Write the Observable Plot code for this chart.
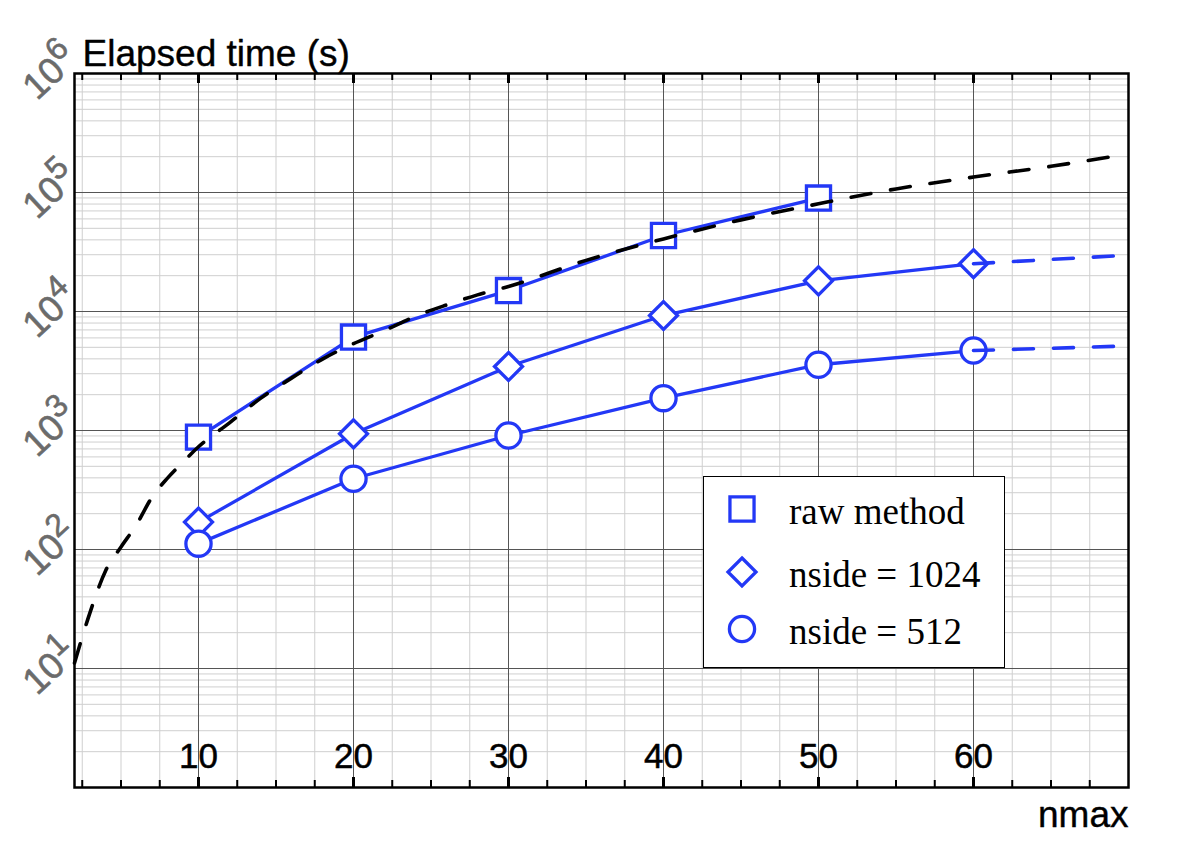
<!DOCTYPE html>
<html>
<head>
<meta charset="utf-8">
<script src="https://cdn.jsdelivr.net/npm/d3@7"></script>
<script src="https://cdn.jsdelivr.net/npm/@observablehq/plot@0.6"></script>
<style>
  html, body { margin: 0; padding: 0; background: #fff; }
  #wrap { position: relative; width: 1202px; height: 862px; }
  #legend {
    position: absolute; left: 703px; top: 476px; width: 300px; height: 190px;
    border: 1.5px solid #000; background: #fff; box-sizing: content-box;
    font-family: "Liberation Serif", "Times New Roman", serif; font-size: 37px; color: #000;
  }
  #legend .row { position: absolute; left: 0; height: 60px; width: 100%; }
  #legend svg { position: absolute; left: 18px; top: 12px; }
  #legend span { position: absolute; left: 85px; white-space: nowrap; line-height: 1; }
</style>
</head>
<body>
<div id="wrap"></div>
<script>
// ---- data ----
const nmax = [10, 20, 30, 40, 50, 60];
const rawMethod = [880, 6100, 15000, 43500, 89800];          // n = 10..50
const nside1024 = [170, 938, 3450, 9250, 18100, 25200];
const nside512  = [112, 393, 908, 1870, 3570, 4700];
const extN = [60, 69.3];
const ext1024 = [25200, 29400];
const ext512  = [4700, 5100];
const fitN = [2,3,4,5,6,7,8,9,10,12,14,16,18,20,22,24,26,28,30,35,40,45,50,55,60,65,69.3];
const fitT = [11.1,29.5,66.1,105,162,275,398,543,730,1160,1862,2754,3981,5370,6918,9120,11350,13800,16220,26900,40740,58880,80350,107200,134900,166000,204200];
const xMajor = [10, 20, 30, 40, 50, 60];
const xMinor = [2.5,5,7.5,12.5,15,17.5,22.5,25,27.5,32.5,35,37.5,42.5,45,47.5,52.5,55,57.5,62.5,65,67.5];
const yDecades = [1, 2, 3, 4, 5, 6];
const legendLabels = ["raw method", "nside = 1024", "nside = 512"];

const BLUE = "#2338f6";
const rows = (xs, ys) => xs.slice(0, ys.length).map((x, i) => ({x, y: ys[i]}));
const rawData = rows(nmax, rawMethod);
const d1024 = rows(nmax, nside1024);
const d512 = rows(nmax, nside512);
const e1024 = rows(extN, ext1024);
const e512 = rows(extN, ext512);
const fit = rows(fitN, fitT);

const yMajor = [1, ...yDecades.map(e => 10 ** e)];
const yMinor = [];
for (let e = 0; e < 6; e++) for (let m = 2; m <= 9; m++) yMinor.push(m * 10 ** e);

const frameH = 862 - 73 - 75;

const plot = Plot.plot({
  width: 1202,
  height: 862,
  marginLeft: 74,
  marginRight: 74,
  marginTop: 73,
  marginBottom: 75,
  style: {fontFamily: "'Liberation Sans', Arial, Helvetica, sans-serif", background: "#fff"},
  x: {domain: [2, 70], axis: null},
  y: {type: "log", domain: [1, 1e6], axis: null},
  marks: [
    Plot.ruleY(yMinor, {stroke: "#cfcfcf", strokeWidth: 1}),
    Plot.ruleX(xMinor, {stroke: "#cfcfcf", strokeWidth: 1}),
    Plot.ruleY(yMajor, {stroke: "#555", strokeWidth: 1}),
    Plot.ruleX(xMajor, {stroke: "#555", strokeWidth: 1}),
    // frame ticks
    Plot.ruleX(xMinor, {stroke: "#000", strokeWidth: 2, insetTop: frameH - 7}),
    Plot.ruleX(xMinor, {stroke: "#000", strokeWidth: 2, insetBottom: frameH - 7}),
    Plot.ruleX(xMajor, {stroke: "#000", strokeWidth: 3, insetTop: frameH - 10}),
    Plot.ruleX(xMajor, {stroke: "#000", strokeWidth: 3, insetBottom: frameH - 10}),
    // series lines
    Plot.line(rawData, {x: "x", y: "y", stroke: BLUE, strokeWidth: 3.3}),
    Plot.line(d1024, {x: "x", y: "y", stroke: BLUE, strokeWidth: 3.3}),
    Plot.line(d512, {x: "x", y: "y", stroke: BLUE, strokeWidth: 3.3}),
    Plot.dot(rawData, {x: "x", y: "y", symbol: "square", r: 13.6, fill: "#fff", stroke: BLUE, strokeWidth: 3.3}),
    Plot.dot(d1024, {x: "x", y: "y", symbol: "diamond2", r: 12.6, fill: "#fff", stroke: BLUE, strokeWidth: 3.3}),
    Plot.dot(d512, {x: "x", y: "y", symbol: "circle", r: 12.6, fill: "#fff", stroke: BLUE, strokeWidth: 3.3}),
    // fit and extrapolations
    Plot.line(fit, {x: "x", y: "y", curve: "monotone-x", stroke: "#000", strokeWidth: 3.6, strokeDasharray: "20,20"}),
    Plot.line(e1024, {x: "x", y: "y", stroke: BLUE, strokeWidth: 3.6, strokeDasharray: "20,20"}),
    Plot.line(e512, {x: "x", y: "y", stroke: BLUE, strokeWidth: 3.6, strokeDasharray: "20,20"}),
    Plot.frame({stroke: "#000", strokeWidth: 2.5}),
    // x tick labels (inside plot)
    Plot.text(xMajor, {x: d => d, text: d => String(d), frameAnchor: "bottom", dy: -20, lineAnchor: "bottom", fontSize: 35, fill: "#000", stroke: "#000", strokeWidth: 0.5}),
    // y tick labels (rotated, superscript applied below)
    Plot.text(yDecades, {y: d => 10 ** d, text: d => "10^" + d, frameAnchor: "left", dx: -24, dy: -1, rotate: -43, textAnchor: "middle", lineAnchor: "middle", fontSize: 37, fill: "#6b6b6b", stroke: "#6b6b6b", strokeWidth: 0.6}),
    // titles
    Plot.text(["Elapsed time (s)"], {text: d => d, frameAnchor: "top-left", dx: 8, dy: -8, textAnchor: "start", lineAnchor: "bottom", fontSize: 37, fill: "#000", stroke: "#000", strokeWidth: 0.4}),
    Plot.text(["nmax"], {text: d => d, frameAnchor: "bottom-right", dy: 39, textAnchor: "end", lineAnchor: "bottom", fontSize: 37, fill: "#000", stroke: "#000", strokeWidth: 0.4})
  ]
});

// superscripts for the power-of-ten labels
d3.select(plot).selectAll("text").each(function () {
  const t = d3.select(this);
  const m = /^10\^(\d)$/.exec(t.text());
  if (!m) return;
  t.text(null);
  t.append("tspan").text("10");
  t.append("tspan").attr("dy", "-0.45em").style("font-size", "32px").text(m[1]);
});

const wrap = document.getElementById("wrap");
wrap.appendChild(plot);

// legend
const legend = document.createElement("div");
legend.id = "legend";
const symbols = ["square", "diamond2", "circle"];
const symFn = {square: d3.symbolSquare, diamond2: d3.symbolDiamond2, circle: d3.symbolCircle};
const symR = {square: 13.6, diamond2: 12.6, circle: 12.6};
const rowTops = [12, 75, 132];
legendLabels.forEach((label, i) => {
  const row = document.createElement("div");
  row.className = "row";
  row.style.top = (rowTops[i] - 12) + "px";
  const s = d3.create("svg").attr("width", 40).attr("height", 40);
  s.append("path")
    .attr("transform", "translate(20,20)")
    .attr("d", d3.symbol(symFn[symbols[i]], Math.PI * symR[symbols[i]] ** 2)())
    .attr("fill", "#fff").attr("stroke", BLUE).attr("stroke-width", 3.3);
  row.appendChild(s.node());
  const sp = document.createElement("span");
  sp.textContent = label;
  sp.style.top = "16px";
  row.appendChild(sp);
  legend.appendChild(row);
});
wrap.appendChild(legend);
</script>
</body>
</html>
